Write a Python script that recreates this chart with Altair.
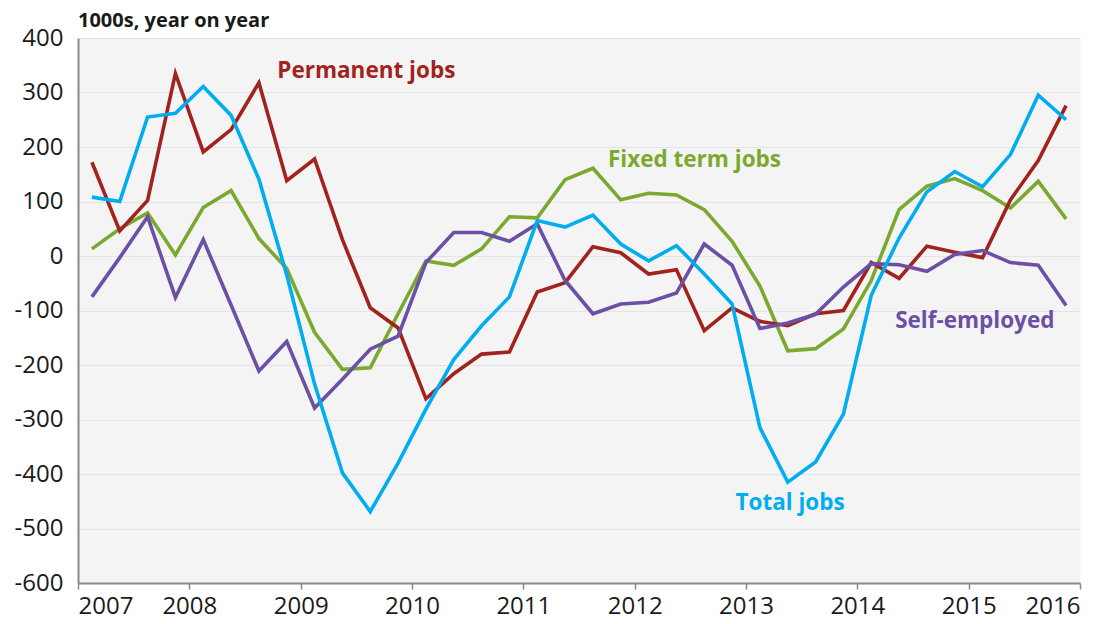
import altair as alt
import pandas as pd

# Quarterly observations, 2007 Q1 .. 2015 Q4
quarters = [f"{y} Q{q}" for y in range(2007, 2016) for q in range(1, 5)]

permanent = [172, 46, 102, 335, 191, 232, 318, 138, 178, 30, -95, -132,
             -262, -216, -180, -176, -66, -49, 17, 6, -33, -25, -137, -95,
             -120, -128, -106, -100, -12, -41, 18, 7, -3, 103, 175, 276]
fixed_term = [13, 50, 79, 2, 89, 120, 32, -23, -140, -208, -205, -106,
              -9, -17, 13, 72, 70, 140, 161, 103, 115, 112, 85, 27,
              -55, -174, -170, -134, -45, 85, 128, 142, 120, 88, 137, 68]
self_employed = [-75, -3, 72, -76, 30, -90, -211, -157, -279, -226, -171, -147,
                 -12, 43, 43, 27, 59, -45, -106, -88, -85, -68, 22, -17,
                 -133, -123, -107, -57, -14, -16, -28, 3, 10, -12, -17, -91]
total = [108, 100, 255, 262, 311, 258, 141, -35, -235, -398, -469, -380,
         -281, -190, -128, -75, 65, 53, 75, 22, -9, 19, -33, -88,
         -315, -415, -378, -290, -72, 33, 118, 155, 127, 186, 295, 250]

series_names = ["Fixed term jobs", "Permanent jobs", "Self-employed", "Total jobs"]
series_values = [fixed_term, permanent, self_employed, total]
series_colors = ["#7BA92F", "#A2231D", "#6B50A6", "#00AEEF"]

# In-chart series labels (data coordinates of their left/middle anchor)
label_text = ["Permanent jobs", "Fixed term jobs", "Total jobs", "Self-employed"]
label_t = [2008.79, 2011.76, 2012.905, 2014.34]
label_v = [339, 177, -454, -120]

year_ticks = list(range(2007, 2017))
value_ticks = list(range(-600, 401, 100))

rows = []
for name, vals in zip(series_names, series_values):
    for q, v in zip(quarters, vals):
        yr, qq = q.split(" Q")
        rows.append({"series": name, "t": int(yr) + (int(qq) - 0.5) / 4, "value": v})
df = pd.DataFrame(rows)

labels_df = pd.DataFrame({"series": label_text, "t": label_t, "value": label_v})

FONT = "Open Sans"
color = alt.Color("series:N", scale=alt.Scale(domain=series_names, range=series_colors), legend=None)

x = alt.X("t:Q", scale=alt.Scale(domain=[2007, 2016], nice=False, zero=False),
          axis=alt.Axis(values=year_ticks, format="d", title=None, grid=False,
                        labelFontSize=24, labelFont=FONT, labelColor="#1a1a1a",
                        tickSize=6, tickColor="#8a8a8a", tickWidth=1.5,
                        domainColor="#8a8a8a", domainWidth=2, labelPadding=5))
y = alt.Y("value:Q", scale=alt.Scale(domain=[-600, 400], nice=False, zero=False),
          axis=alt.Axis(values=value_ticks, title=None, grid=True, gridColor="#E4E4E4",
                        gridWidth=1.2, ticks=False, labelFontSize=24, labelFont=FONT,
                        labelColor="#1a1a1a", labelPadding=15,
                        labelExpr="datum.value < 0 ? '-' + abs(datum.value) : '' + datum.value",
                        domainColor="#8a8a8a", domainWidth=2))

lines = alt.Chart(df).mark_line(strokeWidth=3.6, strokeJoin="miter").encode(
    x=x, y=y, color=color, detail="series:N")

texts = alt.Chart(labels_df).mark_text(
    align="left", baseline="middle", fontSize=22.5, fontWeight="bold", font=FONT
).encode(x="t:Q", y="value:Q", text="series:N", color=color)

chart = (lines + texts).properties(
    width=1002, height=545,
    autosize=alt.AutoSizeParams(type="none"),
    padding={"left": 70, "top": 30, "right": 28, "bottom": 33},
    title=alt.TitleParams("1000s, year on year", anchor="start", frame="group",
                          fontSize=20, fontWeight="bold", font=FONT, color="#1a1a1a",
                          offset=-5),
).configure_view(fill="#F4F4F4", stroke="transparent")

chart.save("out.html", embed_options={"renderer": "svg", "actions": False})
